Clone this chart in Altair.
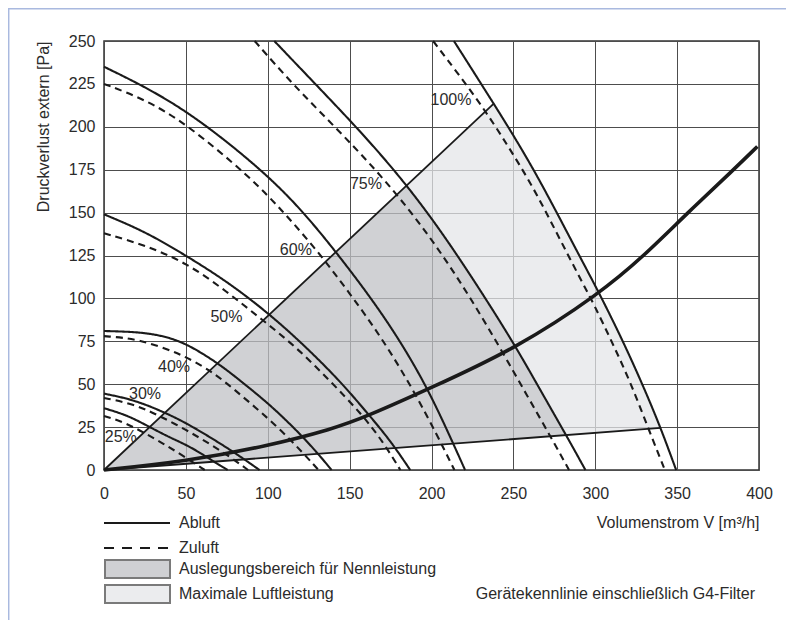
import altair as alt
import pandas as pd

FONT = "Liberation Sans, Arial, Helvetica, sans-serif"
TXT = "#2b2b2b"

# ---- fan curves: (Volumenstrom m3/h, Druck Pa) ----
abluft_25 = [(0, 36), (14, 32), (27, 25.5), (40, 19), (53, 13.5), (66, 5.5), (75.5, 0)]
zuluft_25 = [(0, 31.5), (12, 28), (24, 22), (36, 15.5), (48, 8.5), (61.5, 0)]
abluft_30 = [(0, 44.5), (18, 41), (36, 34), (50, 27.5), (65, 19), (80, 10), (95, 0)]
zuluft_30 = [(0, 42), (18, 38.5), (33, 32), (50, 23.5), (65, 15), (78, 7), (88, 0)]
abluft_40 = [(0, 81), (20, 80.5), (35, 78.5), (50, 74), (70, 62), (82, 53), (95, 43), (107, 33), (125, 16), (139, 0)]
zuluft_40 = [(0, 78), (21, 76.5), (49, 67), (68, 56), (82, 45), (109, 23), (131, 0)]
abluft_50 = [(0, 149), (25, 139), (50, 125), (75, 110), (101, 91), (123, 72), (144, 52), (161, 33), (175, 17), (187, 0)]
zuluft_50 = [(0, 138), (25, 131), (50, 121), (75, 104), (96, 88), (117, 72), (138, 52), (157, 33), (170, 17), (181, 0)]
abluft_60 = [(0, 235), (30, 221), (60, 203), (100, 172), (124, 148), (145, 123), (164, 99), (181, 75), (198, 47), (213, 16), (220.5, 0)]
zuluft_60 = [(0, 225), (25, 216), (50, 202), (89, 171), (110, 150), (131, 127), (150, 103), (169, 78), (192, 42), (214, 0)]
abluft_75 = [(104, 250), (129, 225), (155, 199), (179, 173), (200, 147), (218, 122), (235, 97), (252, 71), (268, 44), (283, 19), (294, 0)]
zuluft_75 = [(92, 250), (115, 225), (141, 200), (166, 175), (188, 150), (207, 125), (224, 100), (242, 71), (258, 44), (273, 19), (284, 0)]
abluft_100 = [(213.7, 250), (238, 213.5), (252, 192), (266, 169), (282, 140), (293, 120), (303, 102), (317, 75), (329.5, 48.5), (340, 24.5), (349.4, 0)]
zuluft_100 = [(201, 250), (229, 215), (246, 190), (262, 165), (276, 139), (290, 113), (299, 97), (311, 73), (322, 50), (332.5, 24), (342.5, 0)]

# system curve (Anlagenkennlinie)
system_curve = [(0, 0), (50, 5), (100, 14), (140, 24), (160, 31), (200, 48), (252, 71), (303, 103), (330, 125), (356, 149.5), (384.5, 175), (399, 188.5)]

# boundary lines of the operating ranges
upper_line = [(0, 0), (238, 213.5)]
lower_line = [(0, 0), (340, 24.5)]

# regions (polygon vertices)
region_nenn = [(0, 0), (185, 165.6), (200, 147), (218, 122), (235, 97), (252, 71), (268, 44), (282.5, 20.3), (0, 0)]
region_max = [(185, 165.6), (238, 213.5), (252, 192), (266, 169), (282, 140), (293, 120), (303, 102), (317, 75),
              (329.5, 48.5), (340, 24.5), (282.5, 20.3), (268, 44), (252, 71), (235, 97), (218, 122), (200, 147),
              (185, 165.6)]

# percentage labels
pct_labels = ["25%", "30%", "40%", "50%", "60%", "75%", "100%"]
pct_x = [0.5, 15.3, 33, 65, 107.4, 150.2, 199.4]
pct_y = [19.5, 44, 60.2, 89, 128, 166.6, 215.5]

x_ticks = [0, 50, 100, 150, 200, 250, 300, 350, 400]
y_ticks = [0, 25, 50, 75, 100, 125, 150, 175, 200, 225, 250]

# ---------------------------------------------------------------------------
curve_sets = [
    ("25", "Abluft", abluft_25), ("25", "Zuluft", zuluft_25),
    ("30", "Abluft", abluft_30), ("30", "Zuluft", zuluft_30),
    ("40", "Abluft", abluft_40), ("40", "Zuluft", zuluft_40),
    ("50", "Abluft", abluft_50), ("50", "Zuluft", zuluft_50),
    ("60", "Abluft", abluft_60), ("60", "Zuluft", zuluft_60),
    ("75", "Abluft", abluft_75), ("75", "Zuluft", zuluft_75),
    ("100", "Abluft", abluft_100), ("100", "Zuluft", zuluft_100),
]
rows = []
for pct, luft, pts in curve_sets:
    for i, (x, y) in enumerate(pts):
        rows.append({"curve": pct + luft, "luft": luft, "i": i, "x": x, "y": y})
curves_df = pd.DataFrame(rows)


def pts_df(pts, name):
    return pd.DataFrame([{"name": name, "i": i, "x": x, "y": y} for i, (x, y) in enumerate(pts)])


xscale = alt.Scale(domain=[0, 400], nice=False, zero=False)
yscale = alt.Scale(domain=[0, 250], nice=False, zero=False)

X = alt.X("x:Q", scale=xscale, axis=alt.Axis(
    values=x_ticks, title="Volumenstrom V [m³/h]", labelPadding=15, labelFlush=False,
    labelOverlap=False, titleX=655, titleY=52, titleAlign="right", titleBaseline="middle"))
Y = alt.Y("y:Q", scale=yscale, axis=alt.Axis(
    values=y_ticks, title="Druckverlust extern [Pa]", labelPadding=9, labelFlush=False,
    labelOverlap=False, titleX=-53, titleY=0, titleAlign="right", titleAngle=270,
    titleBaseline="bottom"))

nenn = alt.Chart(pts_df(region_nenn, "nenn")).mark_line(
    fill="#c0c2c6", fillOpacity=0.75, strokeOpacity=0, interpolate="linear"
).encode(x=X, y=Y, order="i:Q")

maxr = alt.Chart(pts_df(region_max, "max")).mark_line(
    fill="#e4e6e8", fillOpacity=0.75, strokeOpacity=0, interpolate="linear"
).encode(x="x:Q", y="y:Q", order="i:Q")

bounds_df = pd.concat([pts_df(upper_line, "upper"), pts_df(lower_line, "lower")])
bounds = alt.Chart(bounds_df).mark_line(color="#1a1a1a", strokeWidth=1.8).encode(
    x="x:Q", y="y:Q", detail="name:N", order="i:Q")

fan = alt.Chart(curves_df).mark_line(color="#1a1a1a", strokeWidth=2.1, interpolate="basis").encode(
    x="x:Q", y="y:Q", detail="curve:N", order="i:Q",
    strokeDash=alt.StrokeDash("luft:N", scale=alt.Scale(domain=["Abluft", "Zuluft"], range=[[1, 0], [7, 5]]),
                              legend=None))

system = alt.Chart(pts_df(system_curve, "system")).mark_line(
    color="#1a1a1a", strokeWidth=3.6, interpolate="basis").encode(x="x:Q", y="y:Q", order="i:Q")

labels_df = pd.DataFrame({"label": pct_labels, "x": pct_x, "y": pct_y})
labels = alt.Chart(labels_df).mark_text(
    align="left", baseline="middle", font=FONT, fontSize=16, color=TXT).encode(
    x="x:Q", y="y:Q", text="label:N")

# ---- legend (drawn below the plot) ----
dummy = pd.DataFrame({"k": [0]})
leg = [
    alt.Chart(dummy).mark_rule(color="#1a1a1a", strokeWidth=2).encode(
        x=alt.value(0), x2=alt.value(66), y=alt.value(482)),
    alt.Chart(dummy).mark_rule(color="#1a1a1a", strokeWidth=2, strokeDash=[10, 8]).encode(
        x=alt.value(0), x2=alt.value(66), y=alt.value(507)),
    alt.Chart(dummy).mark_rect(fill="#cfd0d3", stroke="#7a7a7a", strokeWidth=2).encode(
        x=alt.value(1), x2=alt.value(66), y=alt.value(519), y2=alt.value(537)),
    alt.Chart(dummy).mark_rect(fill="#ebecee", stroke="#7a7a7a", strokeWidth=2).encode(
        x=alt.value(1), x2=alt.value(66), y=alt.value(544), y2=alt.value(562)),
]
for txt, yy in [("Abluft", 482), ("Zuluft", 507), ("Auslegungsbereich für Nennleistung", 528),
                ("Maximale Luftleistung", 553)]:
    leg.append(alt.Chart(dummy).mark_text(text=txt, align="left", baseline="middle", font=FONT,
                                          fontSize=16, color=TXT).encode(x=alt.value(75), y=alt.value(yy)))
leg.append(alt.Chart(dummy).mark_text(text="Gerätekennlinie einschließlich G4-Filter", align="right",
                                      baseline="middle", font=FONT, fontSize=16, color=TXT).encode(
    x=alt.value(651), y=alt.value(553)))

# light blue frame of the figure box
frame = [
    alt.Chart(dummy).mark_rule(color="#a9b9df", strokeWidth=1.5).encode(
        x=alt.value(-96), x2=alt.value(690), y=alt.value(-32.3)),
    alt.Chart(dummy).mark_rule(color="#a9b9df", strokeWidth=1.5).encode(
        x=alt.value(-95.3), y=alt.value(-33), y2=alt.value(590)),
]

chart = alt.layer(nenn, maxr, bounds, fan, system, labels, *leg, *frame).properties(
    width=655, height=429,
    padding={"left": 96, "top": 33, "right": 27, "bottom": 150},
    autosize=alt.AutoSizeParams(type="none"),
    background="white",
).configure_axis(
    labelFont=FONT, titleFont=FONT, labelFontSize=16, titleFontSize=16,
    labelColor=TXT, titleColor=TXT, titleFontWeight="normal",
    gridColor="#4d4d4d", gridWidth=1, domain=False, ticks=False, tickSize=0,
).configure_view(stroke="#333333", strokeWidth=1.5)

chart.save("out.html", embed_options={"renderer": "svg", "actions": False})
